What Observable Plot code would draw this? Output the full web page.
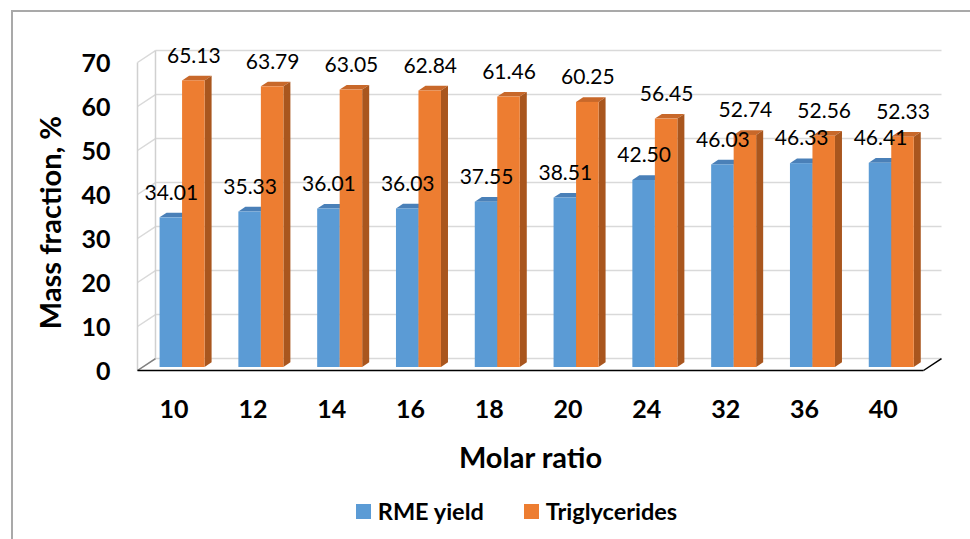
<!DOCTYPE html>
<html>
<head>
<meta charset="utf-8">
<script src="https://cdn.jsdelivr.net/npm/d3@7"></script>
<script src="https://cdn.jsdelivr.net/npm/@observablehq/plot@0.6"></script>
<style>
  html, body { margin: 0; padding: 0; background: #fff; }
  #wrap { position: relative; width: 970px; height: 539px; overflow: hidden; font-family: Lato, "Open Sans", sans-serif; }
  #frame { position: absolute; left: 11px; top: 10px; width: 1100px; height: 700px; border-left: 2px solid #a9a9a9; border-top: 2px solid #a9a9a9; }
  #chart { position: absolute; left: 0; top: 0; }
  #legend { position: absolute; left: 0; top: 499px; width: 1033px; height: 24px; display: flex; justify-content: center; align-items: center; gap: 40px; font-weight: bold; font-size: 23.5px; color: #000; }
  .item { display: flex; align-items: center; gap: 7px; }
  .sw { width: 15px; height: 15px; display: inline-block; }
</style>
</head>
<body>
<div id="wrap">
  <div id="frame"></div>
  <div id="chart"></div>
  <div id="legend"></div>
</div>
<script>
// ---- data ----
const categories = ["10", "12", "14", "16", "18", "20", "24", "32", "36", "40"];
const rmeYield = [34.01, 35.33, 36.01, 36.03, 37.55, 38.51, 42.50, 46.03, 46.33, 46.41];
const triglycerides = [65.13, 63.79, 63.05, 62.84, 61.46, 60.25, 56.45, 52.74, 52.56, 52.33];
const seriesNames = ["RME yield", "Triglycerides"];
const yTicks = [0, 10, 20, 30, 40, 50, 60, 70];
const xTitle = "Molar ratio";
const yTitle = "Mass fraction, %";

// ---- styles ----
const frontColors = ["#5B9BD5", "#ED7D31"];
const topColors = ["#4A80B8", "#C8682A"];
const sideColors = ["#3F6F9F", "#A9561E"];

// pseudo-3D geometry (in scale units)
const X0 = -0.515, X1 = 9.46;      // floor extent along x
const DX = 0.2284, DY = 2.727;     // full depth offset
const D0 = 0.25, DD = 0.39;        // bar front depth & bar depth (fractions)
const W = 0.2855;                  // bar width
const bx = DD * DX, by = DD * DY;

const seriesValues = [rmeYield, triglycerides];
const bars = [];
seriesValues.forEach((vals, s) => {
  vals.forEach((v, i) => {
    const xc = i + D0 * DX;
    const xa = s === 0 ? xc - W : xc;
    const xb = s === 0 ? xc : xc + W;
    const base = D0 * DY;
    bars.push({s, i, v, xa, xb, base, top: v + base, key: s + "-" + i});
  });
});

const tops = s => bars.filter(b => b.s === s).flatMap(b => [
  {key: b.key, y: b.top, x1: b.xa, x2: b.xb},
  {key: b.key, y: b.top + by, x1: b.xa + bx, x2: b.xb + bx}
]);
const sides = s => bars.filter(b => b.s === s).flatMap(b => [
  {key: b.key, x: b.xb, y1: b.base, y2: b.top},
  {key: b.key, x: b.xb + bx, y1: b.base + by, y2: b.top + by}
]);

const backGrid = yTicks.map(t => ({x1: X0 + DX, x2: X1 + DX, y1: t + DY, y2: t + DY}));
const sideGrid = yTicks.map(t => ({x1: X0, x2: X0 + DX, y1: t, y2: t + DY}));
const wallEdges = [
  {x1: X0, x2: X0, y1: 0, y2: 70},
  {x1: X0 + DX, x2: X0 + DX, y1: DY, y2: 70 + DY}
];
const floorDark = [
  {x1: X0, x2: X1, y1: 0, y2: 0},
  {x1: X1, x2: X1 + DX, y1: 0, y2: DY}
];
const floorLeft = [{x1: X0, x2: X0 + DX, y1: 0, y2: DY}];

const marks = [
  Plot.link(backGrid, {x1: "x1", x2: "x2", y1: "y1", y2: "y2", stroke: "#d9d9d9", strokeWidth: 1.5}),
  Plot.link(sideGrid, {x1: "x1", x2: "x2", y1: "y1", y2: "y2", stroke: "#d9d9d9", strokeWidth: 1.5}),
  Plot.link(wallEdges, {x1: "x1", x2: "x2", y1: "y1", y2: "y2", stroke: "#d0d0d0", strokeWidth: 1.5}),
  Plot.link(floorLeft, {x1: "x1", x2: "x2", y1: "y1", y2: "y2", stroke: "#7f7f7f", strokeWidth: 1.5}),
  Plot.link(floorDark, {x1: "x1", x2: "x2", y1: "y1", y2: "y2", stroke: "#000", strokeWidth: 1.5}),
];
[0, 1].forEach(s => {
  marks.push(Plot.areaX(tops(s), {y: "y", x1: "x1", x2: "x2", z: "key", fill: topColors[s]}));
});
[0, 1].forEach(s => {
  marks.push(Plot.areaY(sides(s), {x: "x", y1: "y1", y2: "y2", z: "key", fill: sideColors[s]}));
});
[0, 1].forEach(s => {
  marks.push(Plot.rect(bars.filter(b => b.s === s), {x1: "xa", x2: "xb", y1: "base", y2: "top", fill: frontColors[s]}));
});
marks.push(
  Plot.text(bars, {x: b => (b.xa + b.xb) / 2, y: "top", dy: -25, text: b => b.v.toFixed(2),
    fontSize: 21, fill: "#000", textAnchor: "middle", lineAnchor: "middle"}),
  Plot.text(yTicks, {x: () => X0, y: d => d, dx: -27, dy: 1, text: d => String(d), textAnchor: "end",
    fontSize: 25, fontWeight: "bold", fill: "#000", lineAnchor: "middle"}),
  Plot.text(categories, {x: (d, i) => i, y: () => 0, dy: 39, dx: -4, text: d => d,
    fontSize: 25, fontWeight: "bold", fill: "#000", lineAnchor: "middle"}),
  Plot.text([xTitle], {frameAnchor: "bottom", dy: 88, text: d => d, fontSize: 29, fontWeight: "bold", fill: "#000",
    textAnchor: "middle", lineAnchor: "middle"}),
  Plot.text([yTitle], {frameAnchor: "left", dx: -86, dy: 6, rotate: -90, text: d => d, fontSize: 29, fontWeight: "bold", fill: "#000",
    textAnchor: "middle", lineAnchor: "middle"})
);

const plot = Plot.plot({
  width: 970,
  height: 480,
  marginLeft: 137,
  marginRight: 47,
  marginTop: 62,
  marginBottom: 110,
  x: {type: "linear", domain: [X0, X1], axis: null},
  y: {type: "linear", domain: [0, 70], axis: null},
  style: {fontFamily: "Lato, 'Open Sans', sans-serif", background: "transparent", overflow: "visible"},
  marks
});
document.getElementById("chart").appendChild(plot);

const legend = document.getElementById("legend");
seriesNames.forEach((n, s) => {
  const it = document.createElement("div");
  it.className = "item";
  const sw = document.createElement("span");
  sw.className = "sw";
  sw.style.background = frontColors[s];
  const t = document.createElement("span");
  t.textContent = n;
  it.appendChild(sw); it.appendChild(t);
  legend.appendChild(it);
});
</script>
</body>
</html>
